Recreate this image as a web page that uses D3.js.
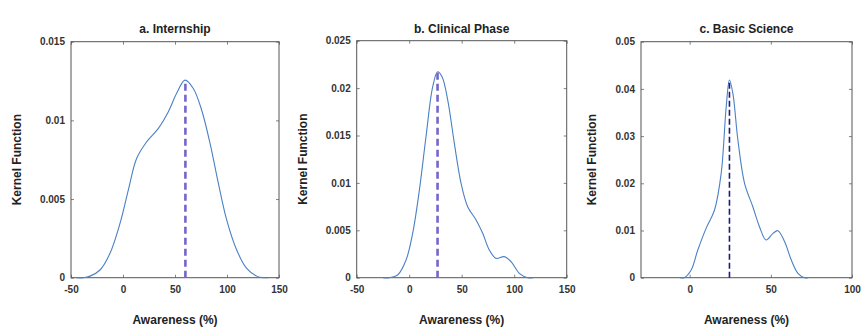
<!DOCTYPE html>
<html><head><meta charset="utf-8">
<script src="https://cdn.jsdelivr.net/npm/d3@7"></script>
<style>body{margin:0;background:#fff}svg{display:block}text{font-family:"Liberation Sans",Arial,sans-serif}</style>
</head><body><svg id="c" width="861" height="329"></svg>
<script>
const titles = ["a. Internship", "b. Clinical Phase", "c. Basic Science"];
const xDomains = [[-50,150],[-50,150],[-30,100]];
const yDomains = [[0,0.015],[0,0.025],[0,0.05]];
const xTicks = [[-50,0,50,100,150],[-50,0,50,100,150],[0,50,100]];
const yTicks = [[0,0.005,0.01,0.015],[0,0.005,0.01,0.015,0.02,0.025],[0,0.01,0.02,0.03,0.04,0.05]];
const peakX = [60, 27, 24.5];

const internshipX = [-45,-38.1,-31.7,-22.1,-12.5,-2.9,5.1,13.1,22.8,34.0,43.6,51.6,59.6,67.6,75.6,83.7,91.7,99.7,109.3,118.9,128.5,134.9,140];
const internshipY = [0,0,0.0001,0.00049,0.00155,0.00345,0.00557,0.00758,0.00864,0.00949,0.01055,0.01172,0.01256,0.01203,0.01066,0.00854,0.0060,0.00367,0.00176,0.00059,0.0001,0,0];
const clinicalX = [-25,-18.9,-11,-3.0,3.3,9.7,16.0,22.4,27.1,31.3,36.7,43.0,49.4,55.7,63.7,70.0,76.3,82.7,90.6,97.0,104.9,112.9,118];
const clinicalY = [0,0,0.00028,0.00186,0.00468,0.00925,0.01487,0.02015,0.02173,0.0212,0.01874,0.01417,0.00995,0.00749,0.00608,0.00468,0.00292,0.00204,0.00222,0.00169,0.00046,0,0];
const basicX = [-6,-3.3,0.9,5.0,10.1,15.3,19.4,22.5,24.5,26.6,29.7,33.8,38.9,43.0,47.1,51.3,54.3,58.5,62.6,66.7,70.8,73];
const basicY = [0,0,0.00162,0.00586,0.01045,0.01434,0.0221,0.03623,0.04188,0.03905,0.02917,0.02,0.01504,0.0108,0.00798,0.00939,0.00996,0.00763,0.00374,0.00092,0,0];

const seriesX = [internshipX, clinicalX, basicX];
const seriesY = [internshipY, clinicalY, basicY];
const dashColors = ["#7466cc", "#7466cc", "#1c1a80"];
const dashWidths = [2.6, 2.6, 1.6];
const dashArrays = ["7,4", "7,4", "6,3"];

const boxes = [
  {l:71, r:279, t:41.7, b:277.7, ylab:17},
  {l:356.7, r:566.7, t:40.7, b:277.7, ylab:303},
  {l:641, r:852, t:41.7, b:277.7, ylab:592}
];

const svg = d3.select("#c");
const fmt = v => v === 0 ? "0" : String(+v.toFixed(3));

boxes.forEach((bx, i) => {
  const x = d3.scaleLinear().domain(xDomains[i]).range([bx.l, bx.r]);
  const y = d3.scaleLinear().domain(yDomains[i]).range([bx.b, bx.t]);
  const g = svg.append("g");
  const tk = 3;
  const ax = (sel) => sel.call(s => s.select(".domain").remove())
     .call(s => s.selectAll("line").attr("stroke", "#666").attr("stroke-width", 0.8))
     .call(s => s.selectAll("text").attr("fill", "#333").attr("font-size", 10).attr("font-weight", "bold").style("font-family", '"Liberation Sans",Arial,sans-serif'));
  g.append("g").attr("transform", `translate(0,${bx.b})`)
    .call(d3.axisBottom(x).tickValues(xTicks[i]).tickSize(-tk).tickPadding(8).tickFormat(v => String(v))).call(ax);
  g.append("g").attr("transform", `translate(0,${bx.t})`)
    .call(d3.axisTop(x).tickValues(xTicks[i]).tickSize(-tk).tickFormat("")).call(ax);
  g.append("g").attr("transform", `translate(${bx.l},0)`)
    .call(d3.axisLeft(y).tickValues(yTicks[i]).tickSize(-tk).tickPadding(6).tickFormat(fmt)).call(ax);
  g.append("g").attr("transform", `translate(${bx.r},0)`)
    .call(d3.axisRight(y).tickValues(yTicks[i]).tickSize(-tk).tickFormat("")).call(ax);
  g.append("rect").attr("x", bx.l).attr("y", bx.t).attr("width", bx.r - bx.l).attr("height", bx.b - bx.t)
    .attr("fill", "none").attr("stroke", "#555").attr("stroke-width", 1);

  const pts = seriesX[i].map((v, j) => [v, seriesY[i][j]]);
  const line = d3.line().x(d => x(d[0])).y(d => y(d[1])).curve(d3.curveCatmullRom.alpha(0.5));
  g.append("path").datum(pts).attr("d", line).attr("fill", "none").attr("stroke", "#4a80c4").attr("stroke-width", 1.1);

  const peakY = d3.max(seriesY[i]);
  g.append("line").attr("x1", x(peakX[i])).attr("x2", x(peakX[i]))
    .attr("y1", y(0)).attr("y2", y(peakY))
    .attr("stroke", dashColors[i]).attr("stroke-width", dashWidths[i]).attr("stroke-dasharray", dashArrays[i]);

  g.append("text").attr("x", (bx.l + bx.r) / 2).attr("y", 33).attr("text-anchor", "middle")
    .attr("font-size", 12).attr("font-weight", "bold").attr("fill", "#222").text(titles[i]);
  g.append("text").attr("x", (bx.l + bx.r) / 2).attr("y", 324).attr("text-anchor", "middle")
    .attr("font-size", 12).attr("font-weight", "bold").attr("fill", "#222").text("Awareness (%)");
  g.append("text").attr("transform", `translate(${bx.ylab},${(bx.t + bx.b) / 2}) rotate(-90)`)
    .attr("text-anchor", "middle").attr("dy", "0.35em")
    .attr("font-size", 12).attr("font-weight", "bold").attr("fill", "#222").text("Kernel Function");
});
</script></body></html>
